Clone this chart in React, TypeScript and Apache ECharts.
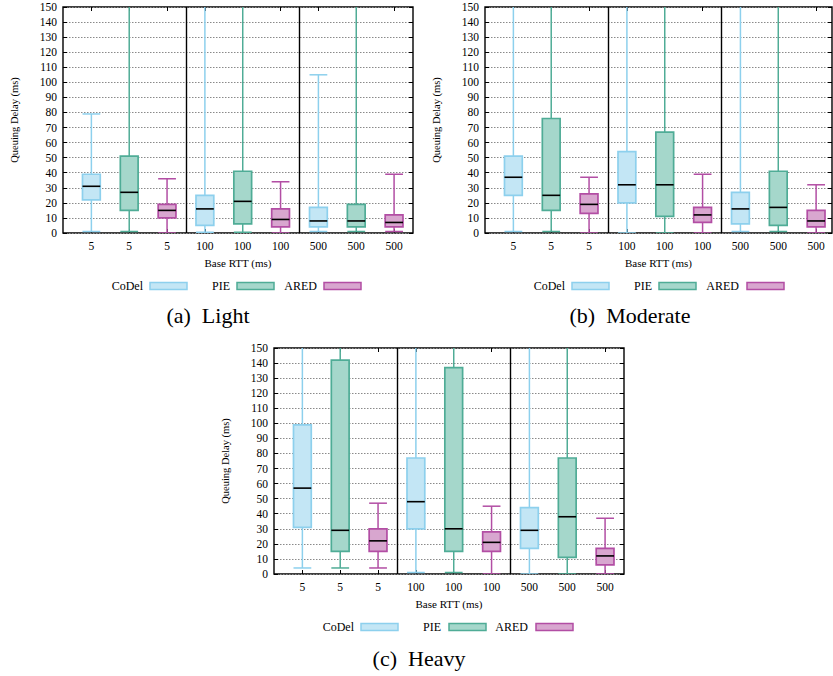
import React, { useEffect, useRef } from "react";
import * as echarts from "echarts";

// Tick labels of the x axis (Base RTT for each box, grouped CoDel/PIE/ARED per RTT)
const rttLabels = ["5", "5", "5", "100", "100", "100", "500", "500", "500"];
const schemes = ["CoDel", "PIE", "ARED"];
const panelCaptions = ["(a)  Light", "(b)  Moderate", "(c)  Heavy"];
const yTicks = [0, 10, 20, 30, 40, 50, 60, 70, 80, 90, 100, 110, 120, 130, 140, 150];

// Each entry: [low whisker, Q1, median, Q3, high whisker] for RTT 5, 100, 500
// (high whiskers above 150 ms run off the plotted range; estimated)
const lightCoDel = [[1, 22, 31, 39, 79], [0.5, 5, 16, 25, 190], [1, 4, 8, 17, 105]];
const lightPIE = [[1, 15, 27, 51, 190], [0.5, 6, 21, 41, 190], [1, 4, 8, 19, 190]];
const lightARED = [[0, 10, 15, 19, 36], [0, 4, 9, 16, 34], [1, 4, 7, 12, 39]];

const moderateCoDel = [[1, 25, 37, 51, 190], [0, 20, 32, 54, 190], [1, 6, 16, 27, 190]];
const moderatePIE = [[1, 15, 25, 76, 190], [0, 11, 32, 67, 190], [1, 5, 17, 41, 190]];
const moderateARED = [[0, 13, 19, 26, 37], [0, 7, 12, 17, 39], [0, 4, 8, 15, 32]];

const heavyCoDel = [[4, 31, 57, 99, 190], [1, 30, 48, 77, 190], [0, 17, 29, 44, 190]];
const heavyPIE = [[4, 15, 29, 142, 190], [1, 15, 30, 137, 190], [0, 11, 38, 77, 190]];
const heavyARED = [[4, 15, 22, 30, 47], [0, 15, 21, 28, 45], [0, 6, 12, 17, 37]];

const panels = [
  [lightCoDel, lightPIE, lightARED],
  [moderateCoDel, moderatePIE, moderateARED],
  [heavyCoDel, heavyPIE, heavyARED],
];

const fills = ["#c3e6f5", "#a5d7cb", "#d8a6cf"];
const strokes = ["#8dd0ed", "#4fac96", "#b24ea4"];

const FONT = "'Liberation Serif', 'Times New Roman', serif";

// layout
const gridsLayout = [
  { left: 63, top: 7, width: 350, height: 226, xMax: 8.5 },
  { left: 485, top: 7, width: 347, height: 226, xMax: 8.42 },
  { left: 274, top: 348, width: 350, height: 226, xMax: 8.5 },
];
const legendLayout = [
  { y: 286, textRight: [143, 230, 317], swatchLeft: [150, 237, 324] },
  { y: 286, textRight: [565, 652, 739], swatchLeft: [572, 659, 747] },
  { y: 627, textRight: [354, 441, 528], swatchLeft: [361, 449, 536] },
];
const captionLayout = [
  { x: 208, y: 315 },
  { x: 630, y: 315 },
  { x: 419, y: 658 },
];

function renderBox(params: any, api: any) {
  const x = api.value(0);
  const low = api.value(1);
  const q1 = api.value(2);
  const med = api.value(3);
  const q3 = api.value(4);
  const high = api.value(5);
  const si = api.value(6);
  const w = api.size([0.47, 0])[0];
  const pLow = api.coord([x, low]);
  const pQ1 = api.coord([x, q1]);
  const pMed = api.coord([x, med]);
  const pQ3 = api.coord([x, q3]);
  const pHigh = api.coord([x, high]);
  const cx = pLow[0];
  const stroke = strokes[si];
  const lineStyle = { stroke, lineWidth: 1.5, fill: null };
  return {
    type: "group",
    children: [
      { type: "line", shape: { x1: cx, y1: pQ3[1], x2: cx, y2: pHigh[1] }, style: lineStyle },
      { type: "line", shape: { x1: cx, y1: pQ1[1], x2: cx, y2: pLow[1] }, style: lineStyle },
      { type: "line", shape: { x1: cx - w / 2, y1: pHigh[1], x2: cx + w / 2, y2: pHigh[1] }, style: lineStyle },
      { type: "line", shape: { x1: cx - w / 2, y1: pLow[1], x2: cx + w / 2, y2: pLow[1] }, style: lineStyle },
      {
        type: "rect",
        shape: { x: cx - w / 2, y: pQ3[1], width: w, height: pQ1[1] - pQ3[1] },
        style: { fill: fills[si], stroke, lineWidth: 1.7 },
      },
      {
        type: "line",
        shape: { x1: cx - w / 2, y1: pMed[1], x2: cx + w / 2, y2: pMed[1] },
        style: { stroke: "#000", lineWidth: 1.6 },
      },
    ],
  };
}

export default function App() {
  const ref = useRef<HTMLDivElement>(null);
  useEffect(() => {
    if (!ref.current) return;
    const chart = echarts.init(ref.current, null, { renderer: "svg" });
    const xPositions = rttLabels.map((_, i) => i);

    const grid: any[] = [];
    const xAxis: any[] = [];
    const yAxis: any[] = [];
    const series: any[] = [];
    const graphic: any[] = [];

    panels.forEach((panel, p) => {
      const g = gridsLayout[p];
      grid.push({
        left: g.left,
        top: g.top,
        width: g.width,
        height: g.height,
        show: true,
        borderColor: "#000",
        borderWidth: 1.4,
        backgroundColor: "transparent",
      });
      // bottom x axis with labels
      xAxis.push({
        type: "value",
        gridIndex: p,
        min: -0.75,
        max: g.xMax,
        position: "bottom",
        name: "Base RTT (ms)",
        nameLocation: "middle",
        nameGap: 24,
        nameTextStyle: { fontFamily: FONT, fontSize: 11, color: "#000" },
        axisLine: { show: false, onZero: false },
        axisTick: { show: true, inside: true, length: 4, customValues: xPositions, lineStyle: { color: "#000" } },
        axisLabel: {
          show: true,
          customValues: xPositions,
          margin: 7,
          fontFamily: FONT,
          fontSize: 11.5,
          color: "#000",
          formatter: (v: number) => rttLabels[Math.round(v)] ?? "",
        },
        splitLine: { show: false },
      });
      // mirrored top ticks
      xAxis.push({
        type: "value",
        gridIndex: p,
        min: -0.75,
        max: g.xMax,
        position: "top",
        axisLine: { show: false, onZero: false },
        axisTick: { show: true, inside: true, length: 4, customValues: xPositions, lineStyle: { color: "#000" } },
        axisLabel: { show: false, customValues: xPositions },
        splitLine: { show: false },
      });
      yAxis.push({
        type: "value",
        gridIndex: p,
        min: 0,
        max: 150,
        interval: 10,
        position: "left",
        name: "Queuing Delay (ms)",
        nameLocation: "middle",
        nameGap: 43,
        nameTextStyle: { fontFamily: FONT, fontSize: 10.5, color: "#000" },
        axisLine: { show: false, onZero: false },
        axisTick: { show: true, inside: true, length: 4, lineStyle: { color: "#000" } },
        axisLabel: {
          margin: 6,
          fontFamily: FONT,
          fontSize: 11.5,
          color: "#000",
          customValues: yTicks,
        },
        splitLine: { show: true, lineStyle: { color: "#8a8a8a", type: [1.5, 1.5], width: 1 } },
      });
      yAxis.push({
        type: "value",
        gridIndex: p,
        min: 0,
        max: 150,
        interval: 10,
        position: "right",
        axisLine: { show: false, onZero: false },
        axisTick: { show: true, inside: true, length: 4, lineStyle: { color: "#000" } },
        axisLabel: { show: false },
        splitLine: { show: false },
      });

      panel.forEach((schemeData, s) => {
        const data = schemeData.map((v, r) => [r * 3 + s, ...v, s]);
        const serie: any = {
          type: "custom",
          name: schemes[s],
          xAxisIndex: p * 2,
          yAxisIndex: p * 2,
          clip: true,
          renderItem: renderBox,
          encode: { x: 0, y: [1, 2, 3, 4, 5] },
          itemStyle: { color: fills[s], borderColor: strokes[s] },
          data,
          z: 3,
        };
        if (s === 0) {
          serie.markLine = {
            silent: true,
            symbol: ["none", "none"],
            label: { show: false },
            lineStyle: { color: "#000", type: "solid", width: 1.4 },
            data: [{ xAxis: 2.5 }, { xAxis: 5.5 }],
            z: 5,
          };
        }
        series.push(serie);
      });

      const L = legendLayout[p];
      schemes.forEach((name, s) => {
        graphic.push({
          type: "text",
          style: {
            text: name,
            x: L.textRight[s],
            y: L.y,
            textAlign: "right",
            textVerticalAlign: "middle",
            fontFamily: FONT,
            fontSize: 12,
            fill: "#000",
          },
        });
        graphic.push({
          type: "rect",
          shape: { x: L.swatchLeft[s], y: L.y - 3.5, width: 37, height: 7 },
          style: { fill: fills[s], stroke: strokes[s], lineWidth: 1.5 },
        });
      });
      const C = captionLayout[p];
      graphic.push({
        type: "text",
        style: {
          text: panelCaptions[p],
          x: C.x,
          y: C.y,
          textAlign: "center",
          textVerticalAlign: "middle",
          fontFamily: FONT,
          fontSize: 22,
          fill: "#000",
        },
      });
    });

    chart.setOption({
      animation: false,
      backgroundColor: "#fff",
      textStyle: { fontFamily: FONT },
      grid,
      xAxis,
      yAxis,
      series,
      graphic,
    });
    return () => chart.dispose();
  }, []);
  return (
    <div
      ref={ref}
      style={{ position: "fixed", left: 0, top: 0, width: 833, height: 676 }}
    />
  );
}
